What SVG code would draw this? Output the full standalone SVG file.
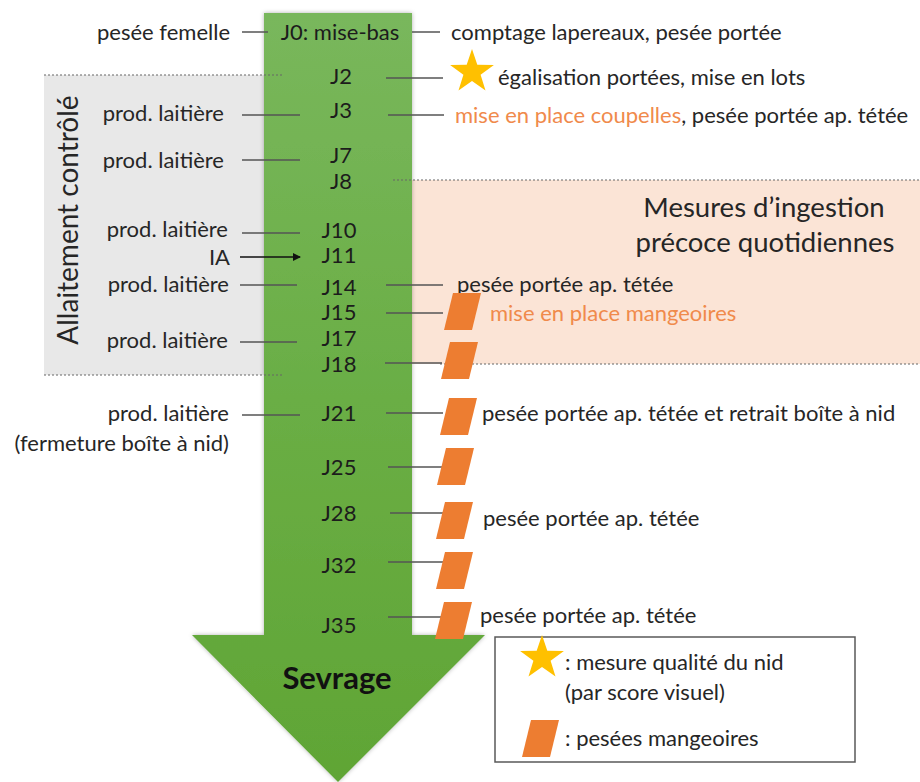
<svg xmlns="http://www.w3.org/2000/svg" width="920" height="782" viewBox="0 0 920 782">
<defs>
<linearGradient id="gArrow" x1="0" y1="13" x2="0" y2="782" gradientUnits="userSpaceOnUse">
<stop offset="0" stop-color="#79b75c"/>
<stop offset="0.5" stop-color="#6aae45"/>
<stop offset="1" stop-color="#60a535"/>
</linearGradient>
<filter id="sh" x="-10%" y="-5%" width="120%" height="110%">
<feDropShadow dx="0" dy="0" stdDeviation="2" flood-color="#000" flood-opacity="0.3"/>
</filter>
<polygon id="star" points="0,-23 5.3,-7.3 21.9,-7.1 8.6,2.8 13.5,18.6 0,9 -13.5,18.6 -8.6,2.8 -21.9,-7.1 -5.3,-7.3" fill="#ffc000"/>
<path id="para" d="M9,0 H37 L28,37 H0 Z" fill="#ed7d31"/>
<marker id="ah" markerWidth="8" markerHeight="8" refX="7" refY="4" orient="auto" markerUnits="userSpaceOnUse">
<path d="M0,0 L8,4 L0,8 Z" fill="#111"/>
</marker>
<style>
text{font-family:Lato,"Liberation Sans",sans-serif;font-size:22px;fill:#262626}
.j{text-anchor:middle;fill:#1c1c1c}
.l{text-anchor:end}
.o{fill:#f08a4b}
.big{font-size:27.5px}
.ln{stroke:#555;stroke-width:1.5;fill:none}
.dot{stroke:#666;stroke-width:1.2;stroke-dasharray:2 2;fill:none}
</style>
</defs>

<g id="zones">
<rect x="44" y="75" width="222" height="300" fill="#e8e8e8"/>
<rect x="410" y="180" width="510" height="184" fill="#fbe4d6"/>
</g>

<g id="arrow">
<path d="M264,13 H412 V635 H485 L338,782 L192,635 H264 Z" fill="url(#gArrow)" filter="url(#sh)"/>
<text x="337" y="689" text-anchor="middle" style="font-size:31px;font-weight:bold;fill:#111">Sevrage</text>
</g>

<g id="dividers">
<line class="dot" x1="44" y1="75" x2="284" y2="75"/>
<line class="dot" x1="44" y1="375" x2="284" y2="375"/>
<line class="dot" x1="393" y1="180" x2="920" y2="180"/>
<line class="dot" x1="440" y1="364" x2="920" y2="364"/>
</g>

<g id="zone-labels">
<text transform="translate(78,220) rotate(-90)" text-anchor="middle" class="big" style="font-size:28px">Allaitement contrôlé</text>
<text x="764" y="217" text-anchor="middle" class="big">Mesures d’ingestion</text>
<text x="765" y="252" text-anchor="middle" class="big">précoce quotidiennes</text>
</g>

<g id="connectors">
<line class="ln" x1="242" y1="32" x2="268" y2="32"/>
<line class="ln" x1="412" y1="32" x2="440" y2="32"/>
<line class="ln" x1="386" y1="78" x2="443" y2="78"/>
<line class="ln" x1="242" y1="115" x2="300" y2="115"/>
<line class="ln" x1="388" y1="115" x2="444" y2="115"/>
<line class="ln" x1="242" y1="160" x2="300" y2="160"/>
<line class="ln" x1="242" y1="233" x2="300" y2="233"/>
<line x1="240" y1="257" x2="300" y2="257" stroke="#111" stroke-width="1.5" marker-end="url(#ah)"/>
<line class="ln" x1="240" y1="285" x2="297" y2="285"/>
<line class="ln" x1="386" y1="285" x2="443" y2="285"/>
<line class="ln" x1="386" y1="313" x2="443" y2="313"/>
<line class="ln" x1="240" y1="342" x2="297" y2="342"/>
<line class="ln" x1="385" y1="363" x2="442" y2="363"/>
<line class="ln" x1="242" y1="415" x2="300" y2="415"/>
<line class="ln" x1="386" y1="413" x2="443" y2="413"/>
<line class="ln" x1="388" y1="467" x2="443" y2="467"/>
<line class="ln" x1="390" y1="513" x2="443" y2="513"/>
<line class="ln" x1="388" y1="562" x2="443" y2="562"/>
<line class="ln" x1="388" y1="617" x2="443" y2="617"/>
</g>

<g id="days">
<text class="j" x="340" y="40">J0: mise-bas</text>
<text class="j" x="341" y="84">J2</text>
<text class="j" x="341" y="118">J3</text>
<text class="j" x="341" y="163">J7</text>
<text class="j" x="341" y="189">J8</text>
<text class="j" x="339" y="238">J10</text>
<text class="j" x="339" y="263">J11</text>
<text class="j" x="339" y="295">J14</text>
<text class="j" x="339" y="320">J15</text>
<text class="j" x="339" y="346">J17</text>
<text class="j" x="339" y="372">J18</text>
<text class="j" x="339" y="421">J21</text>
<text class="j" x="339" y="475">J25</text>
<text class="j" x="339" y="521">J28</text>
<text class="j" x="339" y="573">J32</text>
<text class="j" x="339" y="633">J35</text>
</g>

<g id="left-events">
<text class="l" x="230" y="40">pesée femelle</text>
<text class="l" x="224" y="121">prod. laitière</text>
<text class="l" x="224" y="168">prod. laitière</text>
<text class="l" x="228" y="237">prod. laitière</text>
<text class="l" x="230" y="265">IA</text>
<text class="l" x="229" y="292">prod. laitière</text>
<text class="l" x="228" y="348">prod. laitière</text>
<text class="l" x="229" y="421">prod. laitière</text>
<text class="l" x="229" y="451">(fermeture boîte à nid)</text>
</g>

<g id="right-events">
<text x="451" y="40">comptage lapereaux, pesée portée</text>
<use href="#star" x="472" y="72"/>
<text x="498" y="85">égalisation portées, mise en lots</text>
<text x="455" y="123"><tspan class="o">mise en place coupelles</tspan>, pesée portée ap. tétée</text>
<text x="457" y="292">pesée portée ap. tétée</text>
<text class="o" x="490" y="321">mise en place mangeoires</text>
<text x="482" y="421">pesée portée ap. tétée et retrait boîte à nid</text>
<text x="483" y="526">pesée portée ap. tétée</text>
<text x="480" y="623">pesée portée ap. tétée</text>
</g>

<g id="feeder-weighings">
<use href="#para" x="444" y="293"/>
<use href="#para" x="441" y="342"/>
<use href="#para" x="440" y="398"/>
<use href="#para" x="437" y="448"/>
<use href="#para" x="436" y="502"/>
<use href="#para" x="436" y="552"/>
<use href="#para" x="435" y="602"/>
</g>

<g id="legend">
<rect x="495" y="637" width="360" height="125" fill="#fff" stroke="#595959" stroke-width="1.5"/>
<use href="#star" x="542" y="658"/>
<text x="565" y="670">: mesure qualité du nid</text>
<text x="565" y="700">(par score visuel)</text>
<use href="#para" x="522" y="720"/>
<text x="565" y="746">: pesées mangeoires</text>
</g>
</svg>
